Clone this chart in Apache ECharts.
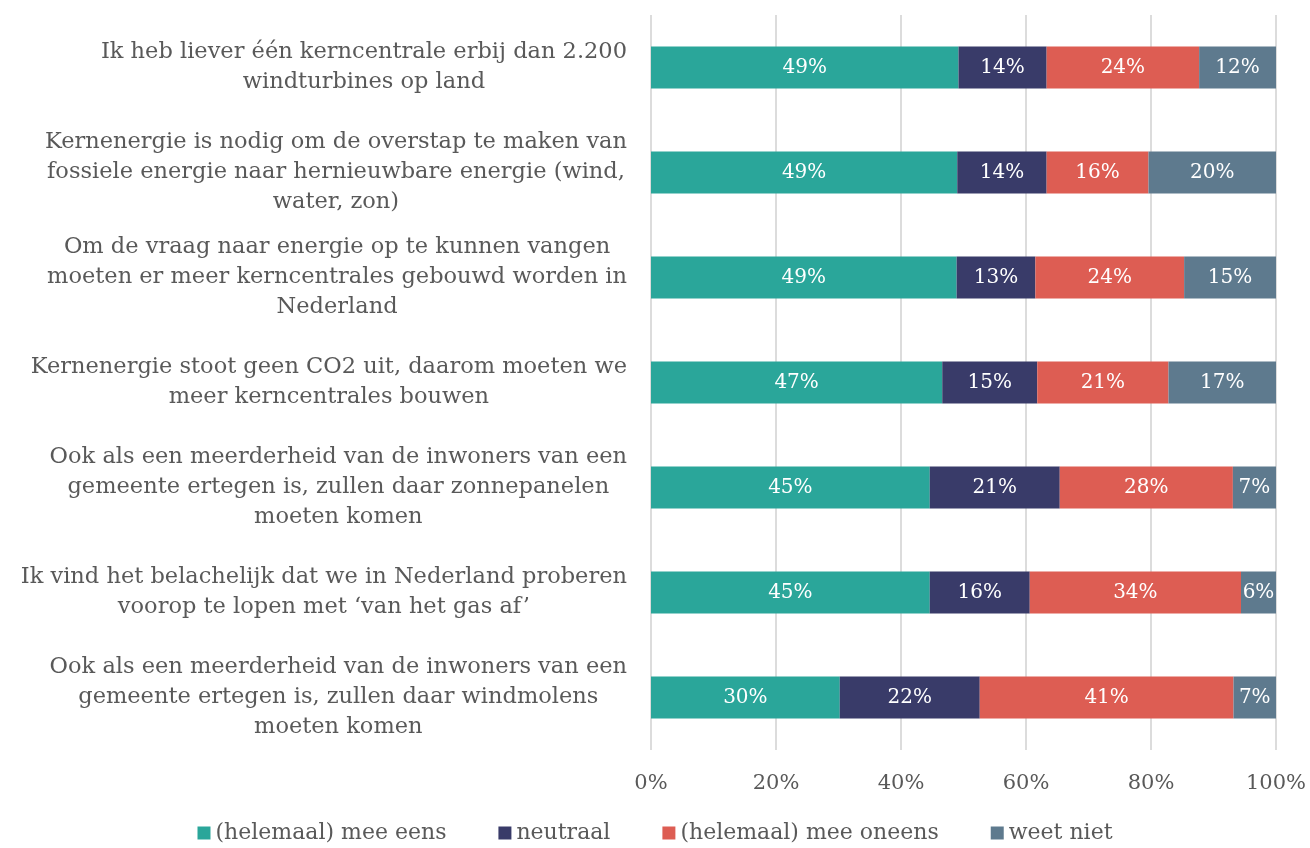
<!DOCTYPE html>
<html>
<head>
<meta charset="utf-8">
<script src="https://cdn.jsdelivr.net/npm/echarts@6/dist/echarts.min.js"></script>
<style>
  html, body { margin: 0; padding: 0; background: #fff; }
  #chart { width: 1310px; height: 848px; }
</style>
</head>
<body>
<div id="chart"></div>
<script>
// stellingen, van boven naar beneden
const statements = [
  'Ik heb liever één kerncentrale erbij dan 2.200\nwindturbines op land',
  'Kernenergie is nodig om de overstap te maken van\nfossiele energie naar hernieuwbare energie (wind,\nwater, zon)',
  'Om de vraag naar energie op te kunnen vangen\nmoeten er meer kerncentrales gebouwd worden in\nNederland',
  'Kernenergie stoot geen CO2 uit, daarom moeten we\nmeer kerncentrales bouwen',
  'Ook als een meerderheid van de inwoners van een\ngemeente ertegen is, zullen daar zonnepanelen\nmoeten komen',
  'Ik vind het belachelijk dat we in Nederland proberen\nvoorop te lopen met ‘van het gas af’',
  'Ook als een meerderheid van de inwoners van een\ngemeente ertegen is, zullen daar windmolens\nmoeten komen'
];

const eens = [49.2, 49.0, 48.9, 46.6, 44.6, 44.6, 30.2];
const neutraal = [14.1, 14.3, 12.6, 15.2, 20.8, 16.0, 22.4];
const oneens = [24.4, 16.3, 23.8, 21.0, 27.7, 33.8, 40.6];
const weetNiet = [12.3, 20.4, 14.7, 17.2, 6.9, 5.6, 6.8];

const seriesNames = ['(helemaal) mee eens', 'neutraal', '(helemaal) mee oneens', 'weet niet'];
const seriesColors = ['#2aa69a', '#393b69', '#dd5d53', '#5e7a8e'];
const xTicks = [0, 20, 40, 60, 80, 100];

const font = 'DejaVu Serif';
const textGrey = '#595959';

const makeSeries = (name, data, color) => ({
  name: name,
  type: 'bar',
  stack: 'total',
  data: data,
  barWidth: '40%',
  itemStyle: { color: color },
  label: {
    show: true,
    position: 'inside',
    color: '#fff',
    fontFamily: font,
    fontSize: 20,
    formatter: p => Math.round(p.value) + '%'
  }
});

const chart = echarts.init(document.getElementById('chart'));
chart.setOption({
  animation: false,
  backgroundColor: '#fff',
  textStyle: { fontFamily: font },
  grid: { left: 651, right: 34, top: 15, bottom: 98 },
  legend: {
    bottom: -1,
    left: 'center',
    icon: 'rect',
    itemWidth: 13,
    itemHeight: 13,
    itemGap: 52,
    textStyle: { color: textGrey, fontFamily: font, fontSize: 22 }
  },
  xAxis: {
    type: 'value',
    min: xTicks[0],
    max: xTicks[xTicks.length - 1],
    interval: 20,
    axisLine: { show: false },
    axisTick: { show: false },
    splitLine: { lineStyle: { color: '#dcdcdc', width: 2 } },
    axisLabel: {
      color: textGrey,
      fontFamily: font,
      fontSize: 21,
      margin: 23,
      formatter: '{value}%'
    }
  },
  yAxis: {
    type: 'category',
    inverse: true,
    data: statements,
    axisLine: { show: false },
    axisTick: { show: false },
    axisLabel: {
      margin: 24,
      align: 'right',
      formatter: v => v.split('\n').map(l => '{c|' + l + '}').join('\n'),
      rich: {
        c: {
          align: 'center',
          color: textGrey,
          fontFamily: font,
          fontSize: 22.5,
          lineHeight: 30
        }
      }
    }
  },
  series: [
    makeSeries(seriesNames[0], eens, seriesColors[0]),
    makeSeries(seriesNames[1], neutraal, seriesColors[1]),
    makeSeries(seriesNames[2], oneens, seriesColors[2]),
    makeSeries(seriesNames[3], weetNiet, seriesColors[3])
  ]
});
</script>
</body>
</html>
